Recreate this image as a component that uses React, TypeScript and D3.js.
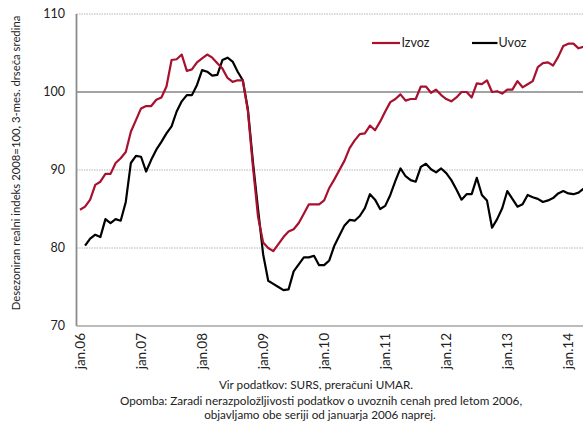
import React from "react";
import * as d3 from "d3";

const izvoz: number[] = [
  84.9, 85.3, 86.2, 88.1, 88.5, 89.5, 89.5, 90.9, 91.5, 92.3,
  94.9, 96.4, 97.9, 98.2, 98.2, 99.0, 99.3, 100.7, 104.1, 104.2,
  104.8, 102.7, 102.9, 103.8, 104.3, 104.8, 104.4, 103.7, 103.0, 101.8,
  101.3, 101.5, 101.5, 97.6, 90.4, 84.0, 80.7, 80.0, 79.6, 80.5,
  81.4, 82.1, 82.4, 83.2, 84.4, 85.6, 85.6, 85.6, 86.1, 87.7,
  88.8, 90.0, 91.2, 92.8, 93.8, 94.6, 94.7, 95.7, 95.1, 96.2,
  97.5, 98.7, 99.1, 99.7, 98.9, 99.1, 99.1, 100.7, 100.7, 99.9,
  100.3, 99.6, 99.1, 98.8, 99.3, 100.0, 100.0, 99.3, 101.1, 101.0,
  101.5, 100.0, 100.1, 99.8, 100.3, 100.3, 101.4, 100.6, 101.0, 101.4,
  103.2, 103.7, 103.8, 103.4, 104.5, 105.9, 106.2, 106.2, 105.6, 105.8,
];

const uvoz: (number | null)[] = [
  null, 80.3, 81.2, 81.7, 81.4, 83.7, 83.2, 83.7, 83.5, 85.9,
  90.9, 91.8, 91.7, 89.8, 91.3, 92.6, 93.6, 94.7, 95.6, 97.5,
  98.8, 99.6, 99.6, 100.9, 102.8, 102.6, 102.1, 102.2, 104.1, 104.4,
  103.9, 102.6, 101.5, 97.8, 91.0, 85.0, 79.2, 75.8, 75.4, 75.0,
  74.6, 74.7, 77.0, 77.9, 78.8, 78.8, 79.0, 77.8, 77.8, 78.4,
  80.3, 81.6, 82.9, 83.6, 83.5, 84.1, 85.1, 86.9, 86.2, 85.0,
  85.4, 86.8, 88.6, 90.2, 89.2, 88.7, 88.5, 90.4, 90.8, 90.1,
  89.7, 90.2, 89.6, 88.7, 87.5, 86.2, 86.9, 86.9, 89.0, 86.8,
  86.1, 82.6, 83.7, 85.1, 87.3, 86.3, 85.3, 85.6, 86.8, 86.5,
  86.3, 85.9, 86.1, 86.4, 87.0, 87.3, 87.0, 86.9, 87.1, 87.6,
];

const xTickLabels = ["jan.06", "jan.07", "jan.08", "jan.09", "jan.10", "jan.11", "jan.12", "jan.13", "jan.14"];
const yTicks = [70, 80, 90, 100, 110];

const W = 583;
const H = 421;
const font = "Lato, 'Open Sans', sans-serif";
const RED = "#a8102e";

export default function App() {
  const step = 5.087;
  const x0 = 80;
  const left = 76.5;
  const right = x0 + step * (izvoz.length - 0.5);
  const x = d3.scaleLinear().domain([0, izvoz.length - 1]).range([x0, x0 + step * (izvoz.length - 1)]);
  const y = d3.scaleLinear().domain([70, 110]).range([326, 14]);

  const line = d3
    .line<number | null>()
    .defined((d) => d != null)
    .x((_, i) => x(i))
    .y((d) => y(d as number));

  return (
    <svg width={W} height={H} style={{ position: "absolute", left: 0, top: 0 }} fontFamily={font}>
      {/* grid */}
      {yTicks.filter((t) => t !== 70).map((t) => (
        <line
          key={t}
          x1={left}
          x2={right}
          y1={y(t)}
          y2={y(t)}
          stroke={t === 100 ? "#858585" : "#b5b5b5"}
          strokeWidth={t === 100 ? 1.3 : 1}
          strokeDasharray={t === 100 ? undefined : "1.5,1"}
        />
      ))}
      {/* axes */}
      <line x1={left} x2={left} y1={y(110)} y2={y(70)} stroke="#8c8c8c" strokeWidth={1.8} />
      <line x1={left} x2={right} y1={y(70)} y2={y(70)} stroke="#a6a6a6" strokeWidth={1.3} />
      {yTicks.map((t) => (
        <text key={t} x={65} y={y(t)} dy="0.35em" textAnchor="end" fontSize={12.5} fill="#222">
          {t}
        </text>
      ))}
      <text
        transform={`translate(15,${(y(110) + y(70)) / 2 - 7}) rotate(-90)`}
        textAnchor="middle"
        dominantBaseline="central"
        fontSize={11.3}
        fill="#222"
      >
        Desezoniran realni indeks 2008=100, 3-mes. drseča sredina
      </text>
      {xTickLabels.map((l, k) => (
        <text
          key={l}
          transform={`translate(${x(k * 12)},333) rotate(-90)`}
          textAnchor="end"
          dominantBaseline="central"
          fontSize={13.5}
          fill="#222"
        >
          {l}
        </text>
      ))}
      {/* series */}
      <path d={line(uvoz) ?? ""} fill="none" stroke="#000" strokeWidth={2.2} strokeLinejoin="round" />
      <path d={line(izvoz) ?? ""} fill="none" stroke={RED} strokeWidth={2.2} strokeLinejoin="round" />
      {/* legend */}
      <line x1={372} x2={400} y1={43} y2={43} stroke={RED} strokeWidth={2.2} />
      <text x={401.5} y={43} dy="0.35em" fontSize={12.5} fill="#222">Izvoz</text>
      <line x1={472} x2={497.5} y1={43} y2={43} stroke="#000" strokeWidth={2.2} />
      <text x={498.5} y={43} dy="0.35em" fontSize={12.5} fill="#222">Uvoz</text>
      {/* footer */}
      <g textAnchor="middle" fontSize={11.7} fill="#222">
        <text x={316} y={389}>Vir podatkov:  SURS, preračuni UMAR.</text>
        <text x={321} y={405}>Opomba: Zaradi nerazpoložljivosti podatkov  o uvoznih cenah  pred letom 2006,</text>
        <text x={320} y={419}>objavljamo obe seriji od januarja 2006 naprej.</text>
      </g>
    </svg>
  );
}
